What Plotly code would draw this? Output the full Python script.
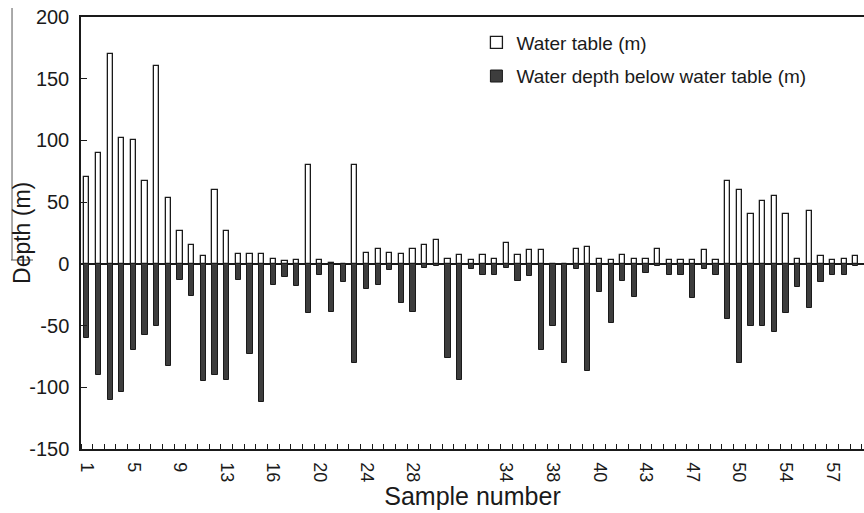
import plotly.graph_objects as go

# ---- data ----
sample_index = list(range(1, 68))
water_table = [70, 90, 170, 102, 100, 67, 160, 53, 27, 15, 6, 60, 27, 8, 8, 8,
               4, 2, 3, 80, 3, 1, 0, 80, 9, 12, 9, 8, 12, 15, 19, 4, 7,
               3, 7, 4, 17, 7, 11, 11, 0, 0, 12, 14, 4, 3, 7, 4, 4,
               12, 3, 3, 3, 11, 3, 67, 60, 40, 51, 55, 40, 4, 43, 6, 3, 4, 6]
depth_below = [-60, -90, -110, -104, -70, -58, -50, -83, -13, -26, -95, -90, -94, -13, -73, -112,
               -17, -11, -18, -40, -9, -39, -15, -80, -20, -17, -5, -32, -39, -3, -2, -76, -94,
               -4, -9, -9, -3, -14, -10, -70, -50, -80, -4, -87, -23, -48, -14, -27, -7,
               -2, -9, -9, -28, -4, -9, -45, -80, -50, -50, -55, -40, -19, -36, -15, -9, -9, -2]
tick_positions = [1, 5, 9, 13, 17, 21, 25, 29, 33, 37, 41, 45, 49, 53, 57, 61, 65]
tick_labels = ["1", "5", "9", "13", "16", "20", "24", "28", "", "34", "38", "40",
               "43", "47", "50", "54", "57"]
y_ticks = [-150, -100, -50, 0, 50, 100, 150, 200]
y_tick_labels = ["-150", "-100", "-50", "0", "50", "100", "150", "200"]

FONT = "Liberation Sans, Arial, sans-serif"
INK = "#1a1a1a"

fig = go.Figure()
fig.add_trace(go.Bar(
    x=sample_index, y=water_table, name="Water table (m)",
    width=0.45, marker=dict(color="white", line=dict(color=INK, width=1.3)),
    legendgroup="a"))
fig.add_trace(go.Bar(
    x=sample_index, y=depth_below, name="Water depth below water table (m)",
    width=0.45, marker=dict(color="#3d3d3d", line=dict(color=INK, width=1.0)),
    legendgroup="b"))

boundaries = [i + 0.5 for i in range(0, len(sample_index) + 1)]

fig.update_layout(
    width=864, height=513,
    margin=dict(l=81, r=0, t=17, b=64),
    paper_bgcolor="white", plot_bgcolor="white",
    barmode="relative", bargap=0,
    font=dict(family=FONT, color=INK),
    showlegend=True,
    legend=dict(x=0.505, y=0.985, xanchor="left", yanchor="top",
                bgcolor="rgba(0,0,0,0)", font=dict(size=19, family=FONT, color=INK),
                tracegroupgap=6, traceorder="grouped"),
    xaxis=dict(
        range=[0.5, 67.7], showline=True, linecolor=INK, linewidth=1.5, mirror=True,
        tickmode="array", tickvals=tick_positions, ticktext=tick_labels,
        ticks="", tickangle=90, tickfont=dict(size=18, family=FONT, color=INK),
        ticklabelstandoff=8,
        minor=dict(tickmode="array", tickvals=boundaries, ticks="inside",
                   ticklen=5, tickcolor=INK, tickwidth=1.2, showgrid=False),
        showgrid=False, zeroline=False,
        title=dict(text="Sample number", font=dict(size=25, family=FONT, color=INK),
                   standoff=2),
    ),
    yaxis=dict(
        range=[-150, 200], tickmode="array", tickvals=y_ticks, ticktext=y_tick_labels,
        showline=True, linecolor=INK, linewidth=1.5,
        ticks="inside", ticklen=6, tickcolor=INK, tickwidth=1.2,
        tickfont=dict(size=20, family=FONT, color=INK), ticklabelstandoff=6,
        showgrid=False, zeroline=True, zerolinecolor=INK, zerolinewidth=1.5,
    ),
    annotations=[
        dict(text="Depth (m)", xref="paper", yref="paper", x=-0.0754, y=0.5,
             xanchor="center", yanchor="middle", textangle=-90, showarrow=False,
             font=dict(size=23, family=FONT, color=INK)),
    ],
    shapes=[
        dict(type="line", xref="paper", yref="paper",
             x0=-0.0881, x1=-0.0881, y0=1.0208, y1=0.4375,
             line=dict(color="#555555", width=1)),
        dict(type="line", xref="paper", yref="paper",
             x0=-0.0894, x1=-0.0613, y0=0.4375, y1=0.4375,
             line=dict(color="#555555", width=1)),
    ],
)

fig.write_html("out.html")
